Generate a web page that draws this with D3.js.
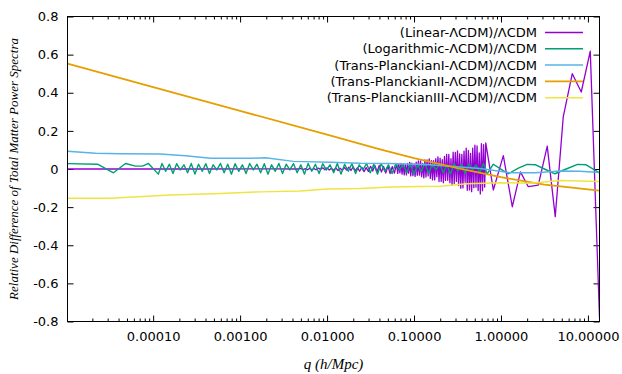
<!DOCTYPE html>
<html><head><meta charset="utf-8">
<script src="https://cdn.jsdelivr.net/npm/d3@7"></script>
<style>body{margin:0;background:#fff}svg{display:block}</style>
</head><body>
<svg id="c" width="622" height="374"></svg>
<script>
// ---- data: [log10(q), relative difference] ----
const seriesNames = ["(Linear-ΛCDM)/ΛCDM","(Logarithmic-ΛCDM)/ΛCDM","(Trans-PlanckianI-ΛCDM)/ΛCDM","(Trans-PlanckianII-ΛCDM)/ΛCDM","(Trans-PlanckianIII-ΛCDM)/ΛCDM"];
const seriesColors = ["#9400d3","#009e73","#56b4e9","#e69f00","#f0e442"];

const linear = [
[-4.985,0],[-3.5,0],[-2.6,0.001],[-2.33,0],
[-2.300,0.003],[-2.275,-0.003],[-2.250,0.002],[-2.225,-0.004],[-2.200,0.003],[-2.175,-0.004],[-2.150,0.002],[-2.125,-0.004],[-2.100,0.005],[-2.075,-0.003],
[-2.050,0.006],[-2.025,-0.004],[-2.000,0.006],[-1.975,-0.005],[-1.950,0.004],[-1.925,-0.007],[-1.900,0.006],[-1.875,-0.008],[-1.850,0.004],[-1.825,-0.007],
[-1.800,0.008],[-1.775,-0.006],[-1.750,0.010],[-1.725,-0.008],[-1.700,0.011],[-1.675,-0.009],[-1.650,0.007],[-1.625,-0.012],[-1.600,0.009],[-1.575,-0.014],
[-1.550,0.007],[-1.525,-0.013],[-1.500,0.014],[-1.475,-0.011],[-1.450,0.018],[-1.425,-0.014],[-1.400,0.019],[-1.375,-0.016],[-1.350,0.013],[-1.325,-0.021],
[-1.300,0.016],[-1.275,-0.024],[-1.250,0.013],[-1.225,-0.022],
[-1.2000,0.027],[-1.1875,-0.023],[-1.1750,0.027],[-1.1625,-0.020],[-1.1500,0.030],[-1.1375,-0.027],[-1.1250,0.025],[-1.1125,-0.031],[-1.1000,0.024],[-1.0875,-0.031],
[-1.0750,0.029],[-1.0625,-0.022],[-1.0500,0.035],[-1.0375,-0.036],[-1.0250,0.031],[-1.0125,-0.035],[-1.0000,0.027],[-0.9875,-0.039],[-0.9750,0.036],[-0.9625,-0.033],
[-0.9500,0.042],[-0.9375,-0.032],[-0.9250,0.042],[-0.9125,-0.040],[-0.9000,0.030],[-0.8875,-0.047],[-0.8750,0.048],[-0.8625,-0.042],[-0.8500,0.048],[-0.8375,-0.036],
[-0.8250,0.053],[-0.8125,-0.049],[-0.8000,0.044],[-0.7875,-0.057],[-0.7750,0.044],[-0.7625,-0.057],[-0.7500,0.054],[-0.7375,-0.041],[-0.7250,0.064],[-0.7125,-0.066],
[-0.7000,0.057],[-0.6875,-0.065],[-0.6750,0.049],[-0.6625,-0.072],[-0.6500,0.066],[-0.6375,-0.060],[-0.6250,0.077],[-0.6125,-0.059],[-0.6000,0.076],[-0.5875,-0.072],
[-0.5750,0.054],[-0.5625,-0.086],[-0.5500,0.088],[-0.5375,-0.076],[-0.5250,0.087],[-0.5125,-0.065],[-0.5000,0.095],[-0.4875,-0.087],[-0.4750,0.079],[-0.4625,-0.101],
[-0.4500,0.077],[-0.4375,-0.099],[-0.4250,0.094],[-0.4125,-0.070],[-0.4000,0.110],[-0.3875,-0.112],[-0.3750,0.097],[-0.3625,-0.110],[-0.3500,0.082],[-0.3375,-0.119],
[-0.3250,0.109],[-0.3125,-0.098],[-0.3000,0.125],[-0.2875,-0.095],[-0.2750,0.121],[-0.2625,-0.113],[-0.2500,0.085],[-0.2375,-0.131],[-0.2250,0.133],[-0.2125,-0.114],
[-0.2000,0.128],[-0.1875,-0.095],[-0.1750,0.137],
[-0.088,-0.110],[0.027,0.070],[0.130,-0.198],[0.224,-0.015],[0.314,-0.093],[0.429,-0.085],[0.532,0.120],[0.624,-0.250],[0.716,0.273],[0.820,0.500],[0.923,0.404],[1.027,0.618],[1.133,-0.780]
];

const logarithmic = [
[-4.985,0.028],[-4.640,0.025],[-4.456,-0.020],[-4.318,0.029],[-4.203,0.015],[-4.123,0.015],[-4.054,0.029],
[-3.940,-0.027],[-3.898,0.029],[-3.856,-0.012],[-3.814,0.025],[-3.772,-0.024],[-3.730,0.028],[-3.688,-0.005],[-3.646,0.022],[-3.604,-0.020],[-3.562,0.029],
[-3.520,-0.027],[-3.478,0.025],[-3.436,-0.012],[-3.394,0.028],[-3.352,-0.024],[-3.310,0.022],[-3.268,-0.005],[-3.226,0.029],[-3.184,-0.020],[-3.142,0.025],
[-3.100,-0.027],[-3.058,0.028],[-3.016,-0.012],[-2.974,0.022],[-2.932,-0.024],[-2.890,0.029],[-2.848,-0.005],[-2.806,0.025],[-2.764,-0.020],[-2.722,0.028],
[-2.680,-0.027],[-2.638,0.022],[-2.596,-0.012],[-2.554,0.029],[-2.512,-0.024],[-2.470,0.025],[-2.428,-0.005],[-2.386,0.028],[-2.344,-0.020],[-2.302,0.022],
[-2.260,-0.027],[-2.218,0.029],[-2.176,-0.012],[-2.134,0.025],[-2.092,-0.024],[-2.050,0.028],[-2.008,-0.005],[-1.966,0.022],[-1.924,-0.020],[-1.882,0.029],
[-1.840,-0.027],[-1.798,0.025],[-1.756,-0.012],[-1.714,0.028],[-1.672,-0.024],[-1.630,0.022],[-1.588,-0.005],[-1.546,0.029],[-1.504,-0.020],[-1.462,0.025],
[-1.420,-0.027],[-1.378,0.028],[-1.336,-0.012],[-1.294,0.022],[-1.252,-0.024],[-1.210,0.029],[-1.168,-0.005],[-1.126,0.025],[-1.084,-0.020],[-1.042,0.028],
[-1.000,-0.027],[-0.958,0.022],[-0.916,-0.012],[-0.874,0.029],[-0.832,-0.024],[-0.790,0.025],[-0.748,-0.005],[-0.706,0.028],[-0.664,-0.020],[-0.622,0.022],
[-0.580,-0.027],[-0.538,0.029],[-0.496,-0.012],[-0.454,0.025],[-0.412,-0.024],[-0.370,0.028],[-0.328,-0.005],[-0.286,0.022],[-0.244,-0.020],[-0.202,0.029],[-0.160,-0.027],
[-0.088,0.025],[0.030,-0.010],[0.085,-0.025],[0.200,0.005],[0.300,0.024],[0.400,0.022],[0.500,0.000],[0.620,-0.025],[0.750,0.000],[0.880,0.024],[0.980,0.022],[1.133,-0.020]
];

const transPlanckianI = [
[-4.985,0.093],[-4.663,0.083],[-4.376,0.080],[-3.916,0.079],[-3.629,0.070],[-3.341,0.057],[-2.882,0.056],[-2.709,0.059],[-2.387,0.040],[-1.962,0.035],
[-1.617,0.030],[-1.272,0.029],[-0.813,0.022],[-0.468,0.010],[-0.238,0.003],[0.107,-0.020],[0.395,-0.020],[0.682,-0.010],[0.912,-0.012],[1.133,-0.018]
];

const transPlanckianII = [
[-4.985,0.553],[-4.0,0.430],[-3.0,0.305],[-2.0,0.180],[-1.39,0.103],[-1.0,0.057],[-0.5,0.005],[0.0,-0.043],[0.5,-0.082],[1.133,-0.113]
];

const transPlanckianIII = [
[-4.985,-0.154],[-4.491,-0.154],[-3.801,-0.137],[-3.226,-0.128],[-2.767,-0.120],[-2.307,-0.115],[-1.997,-0.105],[-1.617,-0.102],[-1.272,-0.095],
[-0.928,-0.092],[-0.698,-0.090],[-0.388,-0.077],[-0.008,-0.072],[0.337,-0.075],[0.682,-0.060],[1.133,-0.065]
];

const yTicks = [-0.8,-0.6,-0.4,-0.2,0,0.2,0.4,0.6,0.8];
const yTickLabels = ["-0.8","-0.6","-0.4","-0.2","0","0.2","0.4","0.6","0.8"];
const xTicks = [1e-4,1e-3,1e-2,1e-1,1,10];
const xTickLabels = ["0.00010","0.00100","0.01000","0.10000","1.00000","10.00000"];
const xTitle = "q (h/Mpc)";
const yTitle = "Relative Difference of Total Matter Power Spectra";

// ---- drawing ----
const svg = d3.select("#c");
const L = 67.5, R = 599.5, T = 16.5, B = 321.5;
const x = d3.scaleLog().domain([Math.pow(10,-4.985), Math.pow(10,1.133)]).range([L,R]);
const y = d3.scaleLinear().domain([-0.8,0.8]).range([B,T]);

const minors = [];
[1e-5,1e-4,1e-3,1e-2,1e-1,1,10].forEach(d => { for (let m=2;m<=9;m++){ const v=d*m; if (v>=x.domain()[0] && v<=x.domain()[1]) minors.push(v);} });

const FONT = "'DejaVu Sans', sans-serif";
function styleAxis(g){ g.select(".domain").remove(); g.selectAll("line").attr("stroke","#000"); g.selectAll("text").attr("fill","#000").style("font-family",FONT).style("font-size","13px"); }

svg.append("g").attr("transform",`translate(${L},0)`)
  .call(d3.axisLeft(y).tickValues(yTicks).tickSize(-6).tickPadding(9).tickFormat((d,i)=>yTickLabels[i]))
  .call(styleAxis);
svg.append("g").attr("transform",`translate(${R},0)`)
  .call(d3.axisRight(y).tickValues(yTicks).tickSize(-6).tickFormat(""))
  .call(styleAxis);
svg.append("g").attr("transform",`translate(0,${B})`)
  .call(d3.axisBottom(x).tickValues(xTicks).tickSize(-6).tickPadding(10).tickFormat((d,i)=>xTickLabels[i]))
  .call(styleAxis);
svg.append("g").attr("transform",`translate(0,${B})`)
  .call(d3.axisBottom(x).tickValues(minors).tickSize(-3).tickFormat(""))
  .call(styleAxis);
svg.append("g").attr("transform",`translate(0,${T})`)
  .call(d3.axisTop(x).tickValues(xTicks).tickSize(-6).tickFormat(""))
  .call(styleAxis);
svg.append("g").attr("transform",`translate(0,${T})`)
  .call(d3.axisTop(x).tickValues(minors).tickSize(-3).tickFormat(""))
  .call(styleAxis);

svg.append("defs").append("clipPath").attr("id","clip").append("rect")
  .attr("x",L).attr("y",T).attr("width",R-L).attr("height",B-T);

const line = d3.line().x(d=>x(Math.pow(10,d[0]))).y(d=>y(d[1]));
const allSeries = [linear, logarithmic, transPlanckianI, transPlanckianII, transPlanckianIII];
const widths = [1.3,1.4,1.5,1.8,1.5];
const plot = svg.append("g").attr("clip-path","url(#clip)");
allSeries.forEach((s,i)=>{
  plot.append("path").datum(s).attr("d",line).attr("fill","none")
    .attr("stroke",seriesColors[i]).attr("stroke-width",widths[i]).attr("stroke-linejoin","round");
});

svg.append("rect").attr("x",L).attr("y",T).attr("width",R-L).attr("height",B-T)
  .attr("fill","none").attr("stroke","#000").attr("stroke-width",1);

// legend
const leg = svg.append("g");
seriesNames.forEach((n,i)=>{
  const yy = 32.5 + i*16.3;
  leg.append("text").attr("x",537).attr("y",yy).attr("dy","0.35em").attr("text-anchor","end")
    .style("font-family",FONT).style("font-size","13px").attr("fill","#000").text(n);
  leg.append("line").attr("x1",545).attr("x2",583).attr("y1",yy).attr("y2",yy)
    .attr("stroke",seriesColors[i]).attr("stroke-width",widths[i]);
});

// titles
svg.append("text").attr("x",(L+R)/2).attr("y",364).attr("dy","0.35em").attr("text-anchor","middle")
  .style("font-family","'Liberation Serif', serif").style("font-style","italic").style("font-size","15px").text(xTitle);
svg.append("text").attr("transform",`translate(13,${(T+B)/2}) rotate(-90)`).attr("dy","0.35em").attr("text-anchor","middle")
  .style("font-family","'Liberation Serif', serif").style("font-style","italic").style("font-size","13px").text(yTitle);
</script>
</body></html>
